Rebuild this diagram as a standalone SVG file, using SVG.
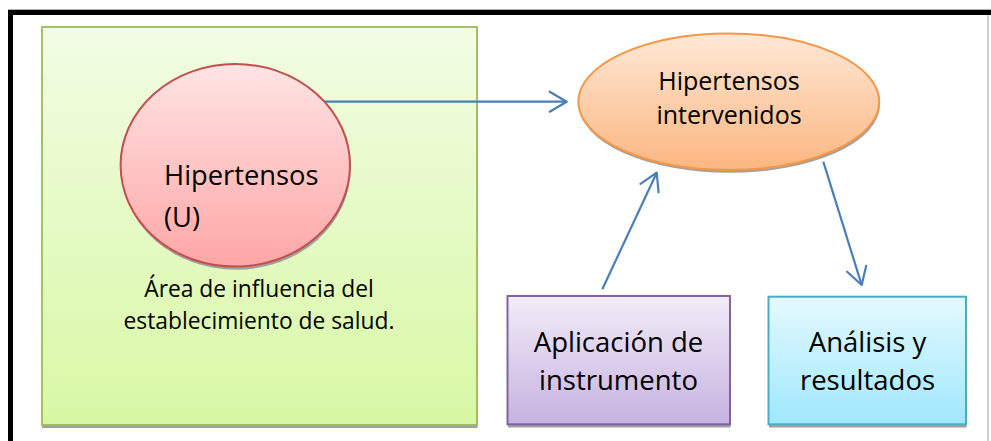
<svg xmlns="http://www.w3.org/2000/svg" width="991" height="441" viewBox="0 0 991 441">
<defs>
<linearGradient id="gGreen" x1="0" y1="0" x2="0" y2="1"><stop offset="0" stop-color="#f2fce4"/><stop offset="1" stop-color="#d8f8a4"/></linearGradient>
<linearGradient id="gRed" x1="0" y1="0" x2="0" y2="1"><stop offset="0" stop-color="#ffe4e4"/><stop offset="1" stop-color="#ffa6a6"/></linearGradient>
<linearGradient id="gOrange" x1="0" y1="0" x2="0" y2="1"><stop offset="0" stop-color="#ffe8d6"/><stop offset="1" stop-color="#fbb680"/></linearGradient>
<linearGradient id="gPurple" x1="0" y1="0" x2="0" y2="1"><stop offset="0" stop-color="#f2ecf8"/><stop offset="1" stop-color="#c6b2e0"/></linearGradient>
<linearGradient id="gCyan" x1="0" y1="0" x2="0" y2="1"><stop offset="0" stop-color="#e4f9ff"/><stop offset="1" stop-color="#9fe8fc"/></linearGradient>
<marker id="arr" markerUnits="userSpaceOnUse" markerWidth="24" markerHeight="26" refX="19" refY="12" orient="auto" viewBox="0 0 24 24">
<path d="M2,2 L19,12 L2,22" fill="none" stroke="#4a7ebb" stroke-width="2.2" stroke-linecap="round" stroke-linejoin="round"/>
</marker>
<style>
.t{font-family:"Open Sans","Liberation Sans",sans-serif;fill:#000;}
.shadow{fill:#a0a0a0;}
.conn{stroke:#4a7ebb;stroke-width:2.2;fill:none;marker-end:url(#arr);}
</style>
</defs>
<rect x="0" y="0" width="991" height="441" fill="#fff"/>
<g id="frame">
<line x1="10.5" y1="10" x2="10.5" y2="441" stroke="#000" stroke-width="5"/>
<line x1="8" y1="12.5" x2="991" y2="12.5" stroke="#000" stroke-width="5"/>
<line x1="8" y1="9.5" x2="991" y2="9.5" stroke="#b0b0b0" stroke-width="1"/>
<line x1="988" y1="15" x2="988" y2="441" stroke="#b0b0b0" stroke-width="1.2"/>
</g>
<g id="area">
<rect class="shadow" x="42" y="29.5" width="435.5" height="398.5"/>
<rect x="42" y="27" width="435" height="398" fill="url(#gGreen)" stroke="#9bbb59" stroke-width="1.8"/>
<text class="t" x="259" y="297" font-size="22.8" text-anchor="middle">Área de influencia del</text>
<text class="t" x="259" y="329" font-size="22.8" text-anchor="middle">establecimiento de salud.</text>
</g>
<g id="hipertensos-u">
<ellipse class="shadow" cx="236" cy="168.5" rx="114.7" ry="101.3"/>
<ellipse cx="235.3" cy="165.3" rx="114.7" ry="101.3" fill="url(#gRed)" stroke="#c0504d" stroke-width="2"/>
<text class="t" x="164" y="185" font-size="27.3">Hipertensos</text>
<text class="t" x="164" y="227" font-size="27.3">(U)</text>
</g>
<g id="hipertensos-intervenidos">
<ellipse class="shadow" cx="729.5" cy="104.5" rx="150.5" ry="68.3"/>
<ellipse cx="728.8" cy="101.7" rx="150.5" ry="68.3" fill="url(#gOrange)" stroke="#f79646" stroke-width="2"/>
<text class="t" x="729" y="90" font-size="25" text-anchor="middle">Hipertensos</text>
<text class="t" x="729" y="124" font-size="25" text-anchor="middle">intervenidos</text>
</g>
<g id="aplicacion">
<rect class="shadow" x="508" y="298.5" width="222.5" height="129"/>
<rect x="507.5" y="296" width="222.5" height="128.3" fill="url(#gPurple)" stroke="#8064a2" stroke-width="2"/>
<text class="t" x="618.5" y="352" font-size="27.5" text-anchor="middle">Aplicación de</text>
<text class="t" x="618.5" y="390" font-size="27.5" text-anchor="middle">instrumento</text>
</g>
<g id="analisis">
<rect class="shadow" x="769" y="299" width="197.5" height="128.5"/>
<rect x="768.5" y="296.7" width="197.5" height="127.6" fill="url(#gCyan)" stroke="#4bacc6" stroke-width="2"/>
<text class="t" x="867.5" y="352" font-size="27.5" text-anchor="middle">Análisis y</text>
<text class="t" x="867.5" y="390" font-size="27.5" text-anchor="middle">resultados</text>
</g>
<g id="connectors">
<line class="conn" x1="325" y1="101.7" x2="566.7" y2="101.7"/>
<line class="conn" x1="602.3" y1="289.3" x2="656.7" y2="172.7"/>
<line class="conn" x1="823.3" y1="161.7" x2="861.7" y2="285"/>
</g>
</svg>
